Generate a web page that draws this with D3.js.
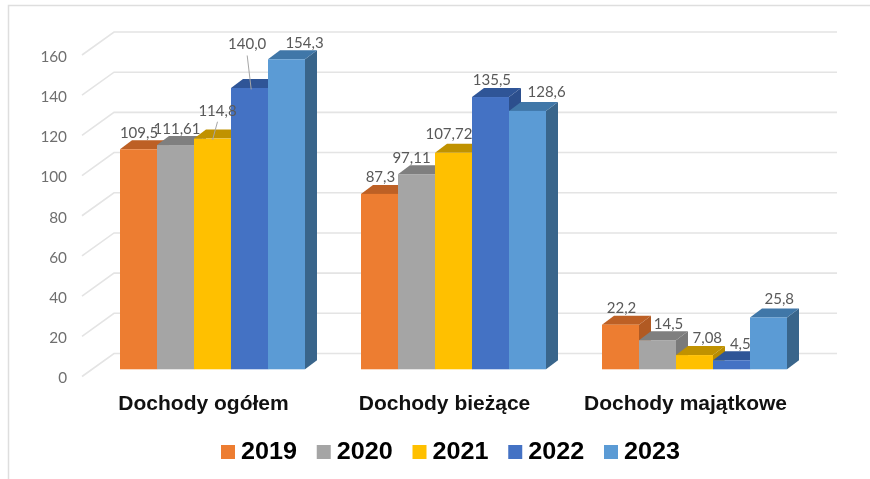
<!DOCTYPE html>
<html>
<head>
<meta charset="utf-8">
<script src="https://cdn.jsdelivr.net/npm/d3@7"></script>
<style>
  html, body { margin: 0; padding: 0; background: #fff; }
  svg { display: block; filter: blur(0.7px); }
</style>
</head>
<body>
<div id="chart"></div>
<script>
// values
var categories = ['Dochody ogółem', 'Dochody bieżące', 'Dochody majątkowe'];
var years = ['2019', '2020', '2021', '2022', '2023'];
var values2019 = [109.5, 87.3, 22.2];
var values2020 = [111.61, 97.11, 14.5];
var values2021 = [114.8, 107.72, 7.08];
var values2022 = [140.0, 135.5, 4.5];
var values2023 = [154.3, 128.6, 25.8];
var labels2019 = ['109,5', '87,3', '22,2'];
var labels2020 = ['111,61', '97,11', '14,5'];
var labels2021 = ['114,8', '107,72', '7,08'];
var labels2022 = ['140,0', '135,5', '4,5'];
var labels2023 = ['154,3', '128,6', '25,8'];
var yTicks = [0, 20, 40, 60, 80, 100, 120, 140, 160];

var allValues = [values2019, values2020, values2021, values2022, values2023];
var allLabels = [labels2019, labels2020, labels2021, labels2022, labels2023];

// styling
var frontColors = ['#ed7d31', '#a5a5a5', '#ffc000', '#4472c4', '#5b9bd5'];
var topColors = ['#bd6025', '#7f7f7f', '#c09200', '#2f5597', '#4077a8'];
var sideColors = ['#b15a23', '#7a7a7a', '#b88c00', '#2c4f8d', '#39658b'];
// hand placed label offsets from the top of each bar [series][category]
var labelDx = [[0.5, 0.9, 1], [1.5, -5, 11], [5, -4.6, 12.8], [-2.3, 1.4, 8.8], [18, 19.1, 10.8]];
var labelDy = [[-11.3, -12.2, -11.7], [-11, -11.5, -10.9], [-22.9, -13.8, -11.8], [-38.5, -12, -11], [-11.5, -13.6, -13.5]];
var leaders = [{s: 2, c: 0}, {s: 3, c: 0}];

var width = 870, height = 479;
var wallDx = 32, wallDy = 23;   // depth of the side wall
var barDx = 12, barDy = 9;      // depth of one bar
var barShiftY = 7.2;            // bars stand a bit inside the floor

var svg = d3.select('#chart').append('svg')
  .attr('width', width)
  .attr('height', height);

svg.append('rect').attr('width', width).attr('height', height).attr('fill', '#fff');

// picture frame, only top and left are visible
svg.append('path')
  .attr('d', 'M8.5,' + height + 'V5.5H' + width)
  .attr('fill', 'none')
  .attr('stroke', '#dedede')
  .attr('stroke-width', 1.5);

var x = d3.scaleBand().domain(categories).range([82, 805]);
var xYear = d3.scaleBand().domain(years).range([38, 223]);
var y = d3.scaleLinear().domain([0, 160]).range([376.5, 55]);

// grid on the side wall and the back wall
var grid = svg.append('g').attr('fill', 'none').attr('stroke', '#e4e4e4').attr('stroke-width', 1.6);
yTicks.forEach(function(t) {
  grid.append('path')
    .attr('d', 'M82,' + y(t) + 'L' + (82 + wallDx) + ',' + (y(t) - wallDy) + 'H' + (805 + wallDx));
});

var yAxis = svg.append('g')
  .attr('transform', 'translate(72,1.5)')
  .call(d3.axisLeft(y).tickValues(yTicks).tickSize(0).tickPadding(5));
yAxis.select('.domain').remove();
yAxis.selectAll('text')
  .style('font-family', 'Lato')
  .style('font-size', '15.3px')
  .style('fill', '#6f6f6f');

// bars, left to right so later ones cover the side of earlier ones
var bars = [];
categories.forEach(function(cat, c) {
  years.forEach(function(yr, s) {
    bars.push({cat: cat, c: c, s: s, year: yr, value: allValues[s][c], label: allLabels[s][c]});
  });
});

function barX(d) { return x(d.cat) + xYear(d.year); }
function barTop(d) { return y(d.value) - barShiftY; }
var barBase = y(0) - barShiftY;
var bw = xYear.bandwidth();

var barG = svg.selectAll('.bar').data(bars).enter().append('g').attr('class', 'bar');

barG.append('path')
  .attr('fill', function(d) { return sideColors[d.s]; })
  .attr('d', function(d) {
    var r = barX(d) + bw;
    return 'M' + r + ',' + barTop(d) + 'l' + barDx + ',' + (-barDy) + 'V' + (barBase - barDy) + 'L' + r + ',' + barBase + 'Z';
  });
barG.append('path')
  .attr('fill', function(d) { return topColors[d.s]; })
  .attr('d', function(d) {
    return 'M' + barX(d) + ',' + barTop(d) + 'l' + barDx + ',' + (-barDy) + 'h' + bw + 'l' + (-barDx) + ',' + barDy + 'Z';
  });
barG.append('rect')
  .attr('x', barX)
  .attr('y', barTop)
  .attr('width', bw)
  .attr('height', function(d) { return barBase - barTop(d); })
  .attr('fill', function(d) { return frontColors[d.s]; });

// leader lines for the labels pulled away from their bar
leaders.forEach(function(l) {
  var d = bars[l.c * years.length + l.s];
  svg.append('line')
    .attr('x1', barX(d) + bw / 2 + labelDx[l.s][l.c])
    .attr('y1', barTop(d) + labelDy[l.s][l.c] + 6)
    .attr('x2', barX(d) + bw / 2 + (l.s == 3 ? 1.7 : 0))
    .attr('y2', barTop(d) + 1.4)
    .attr('stroke', '#a6a6a6')
    .attr('stroke-width', 1);
});

svg.selectAll('.value').data(bars).enter().append('text')
  .attr('class', 'value')
  .attr('x', function(d) { return barX(d) + bw / 2 + labelDx[d.s][d.c]; })
  .attr('y', function(d) { return barTop(d) + labelDy[d.s][d.c]; })
  .attr('text-anchor', 'middle')
  .style('font-family', 'Lato')
  .style('font-size', '15px')
  .style('fill', '#595959')
  .text(function(d) { return d.label; });

svg.selectAll('.cat').data(categories).enter().append('text')
  .attr('class', 'cat')
  .attr('x', function(d) { return x(d) + x.bandwidth() / 2 + 1; })
  .attr('y', 410)
  .attr('text-anchor', 'middle')
  .style('font-family', 'Liberation Sans')
  .style('font-weight', 'bold')
  .style('font-size', '21px')
  .style('fill', '#111')
  .text(function(d) { return d; });

var legendX = d3.scalePoint().domain(years).range([221, 604]);
var legend = svg.selectAll('.legend').data(years).enter().append('g')
  .attr('class', 'legend')
  .attr('transform', function(d) { return 'translate(' + legendX(d) + ',445)'; });
legend.append('rect')
  .attr('width', 14)
  .attr('height', 14)
  .attr('fill', function(d, i) { return frontColors[i]; });
legend.append('text')
  .attr('x', 20)
  .attr('y', 13.5)
  .attr('textLength', 56)
  .attr('lengthAdjust', 'spacingAndGlyphs')
  .style('font-family', 'Liberation Sans')
  .style('font-weight', 'bold')
  .style('font-size', '24px')
  .style('fill', '#000')
  .text(function(d) { return d; });
</script>
</body>
</html>
